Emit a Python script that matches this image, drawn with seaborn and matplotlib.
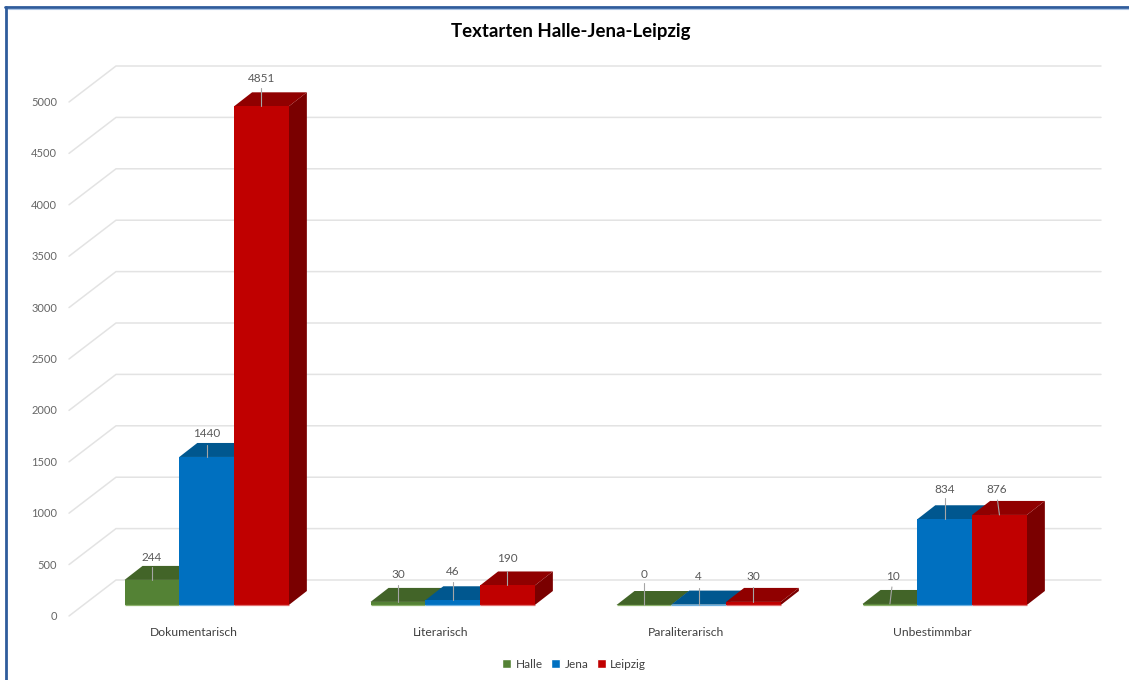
import matplotlib
matplotlib.use("Agg")
import matplotlib.pyplot as plt
from matplotlib.lines import Line2D
from matplotlib.patches import Polygon
from matplotlib.transforms import Affine2D, IdentityTransform
import pandas as pd
import seaborn as sns

categories = ["Dokumentarisch", "Literarisch", "Paraliterarisch", "Unbestimmbar"]
halle = [244, 30, 0, 10]
jena = [1440, 46, 4, 834]
leipzig = [4851, 190, 30, 876]
series_names = ["Halle", "Jena", "Leipzig"]
y_ticks = list(range(0, 5001, 500))
title = "Textarten Halle-Jena-Leipzig"

front_colors = ["#548235", "#0070C0", "#C00000"]
top_colors = ["#426428", "#00578F", "#900000"]
side_colors = ["#33501F", "#004A7A", "#7A0000"]
edge_colors = ["#8DB26C", "#6FB1E0", "#E07070"]

# label layout: (label height above bar, leader length, label dx, leader slant) in pixels
label_layout = [
    [(22, 13, 0, 0), (27, 17, 0, 0), (31, 22, 0, 0), (27, 17, 3, 2)],
    [(23, 12, 0, 0), (29, 18, 0, 0), (28, 17, 0, 0), (30, 21, 0, 0)],
    [(28, 18, 0, 0), (27, 14, 0, 0), (25, 15, 0, 0), (25, 15, -3, -2)],
]

FONT = "Lato"
W, H = 1129, 680
sns.set_style("white")
plt.rcParams["font.family"] = FONT

df = pd.DataFrame({
    "Textart": categories * 3,
    "Anzahl": halle + jena + leipzig,
    "Ort": [n for n in series_names for _ in categories],
})

fig = plt.figure(figsize=(W / 100, H / 100), dpi=100, facecolor="white")
ax = fig.add_axes([83.7 / W, (H - 605) / H, 984 / W, 514 / H])
sns.barplot(data=df, x="Textart", y="Anzahl", hue="Ort", order=categories,
            hue_order=series_names, palette=front_colors, saturation=1,
            width=0.668, gap=0, errorbar=None, ax=ax)
ax.set_xlim(-0.5, 3.5)
ax.set_ylim(0, 5000)
ax.set_xlabel("")
ax.set_ylabel("")
ax.set_yticks(y_ticks)
ax.patch.set_alpha(0)
for s in ax.spines.values():
    s.set_visible(False)
ax.tick_params(axis="both", length=0)
ax.tick_params(axis="x", pad=16, labelsize=8.7, labelcolor="#404040")
ax.tick_params(axis="y", pad=19, labelsize=8, labelcolor="#666666")
for lab in ax.get_xticklabels():
    lab.set_transform(lab.get_transform() + Affine2D().translate(-12.5, 0))
for lab in ax.get_yticklabels():
    lab.set_transform(lab.get_transform() + Affine2D().translate(0, -10.5))

ident = IdentityTransform()


def disp(x, y, dx=0.0, dy=0.0):
    px, py = ax.transData.transform((x, y))
    return (px + dx, py + dy)


# Wall gridlines
for v in y_ticks:
    pts = [disp(-0.5, v, -14.7, -11), disp(-0.5, v, 32.3, 25), disp(3.5, v, 33.3, 25)]
    fig.add_artist(Line2D([p[0] for p in pts], [p[1] for p in pts], transform=ident,
                          color="#E3E3E3", lw=1.1, zorder=0))

# Bar depth
DX, DY = 18, 14
for i, cont in enumerate(ax.containers):
    for j, bar in enumerate(cont):
        x0, w, h = bar.get_x(), bar.get_width(), bar.get_height()
        bar.set_edgecolor("none")
        bar.set_zorder(5 + 2 * i)
        bar.set_clip_on(False)
        x1 = x0 + w
        side = [disp(x1, 0), disp(x1, 0, DX, DY), disp(x1, h, DX, DY), disp(x1, h)]
        top = [disp(x0, h), disp(x0, h, DX, DY), disp(x1, h, DX, DY), disp(x1, h)]
        ax.add_patch(Polygon(side, closed=True, transform=ident, facecolor=side_colors[i],
                             edgecolor="none", zorder=4 + 2 * i, clip_on=False))
        ax.add_patch(Polygon(top, closed=True, transform=ident, facecolor=top_colors[i],
                             edgecolor="none", zorder=4 + 2 * i, clip_on=False))
        # Light bottom edge of the front face
        ax.plot([x0, x1], [0, 0], color=edge_colors[i], lw=0.9, zorder=5.5 + 2 * i,
                clip_on=False, solid_capstyle="butt")
        # Leader line and value label
        rise, lead, tdx, slant = label_layout[i][j]
        cx = x0 + w / 2
        a = disp(cx, h, 0, 0)
        b = disp(cx, h, slant, lead)
        ax.add_line(Line2D([a[0], b[0]], [a[1], b[1]], transform=ident, color="#A6A6A6",
                           lw=0.8, zorder=20, clip_on=False))
        ax.annotate(f"{int(h)}", xy=disp(cx, h, tdx, rise), xycoords=ident, ha="center",
                    va="center", fontsize=8.5, color="#595959", zorder=21)

ax.set_xlim(-0.5, 3.5)
ax.set_ylim(0, 5000)

leg = ax.legend(frameon=False, ncol=3, loc="center", bbox_to_anchor=(574 / W, (H - 664) / H),
                bbox_transform=fig.transFigure, fontsize=8.5, handlelength=0.8, handleheight=0.8,
                handletextpad=0.35, columnspacing=0.7, borderpad=0, labelcolor="#404040")

fig.text(571 / W, 1 - 32 / H, title, ha="center", va="center", fontsize=13.4, fontweight="bold",
         color="black")

# Outer frame
fig.add_artist(Line2D([6 / W, 6 / W], [0, 1 - 7 / H], color="#2F5C9C", lw=2))
fig.add_artist(Line2D([5 / W, 1], [1 - 7 / H, 1 - 7 / H], color="#2F5C9C", lw=2))
fig.add_artist(Line2D([8 / W, 1], [1 - 9 / H, 1 - 9 / H], color="#A9C3E4", lw=0.8))

fig.savefig("out.png", dpi=100)
